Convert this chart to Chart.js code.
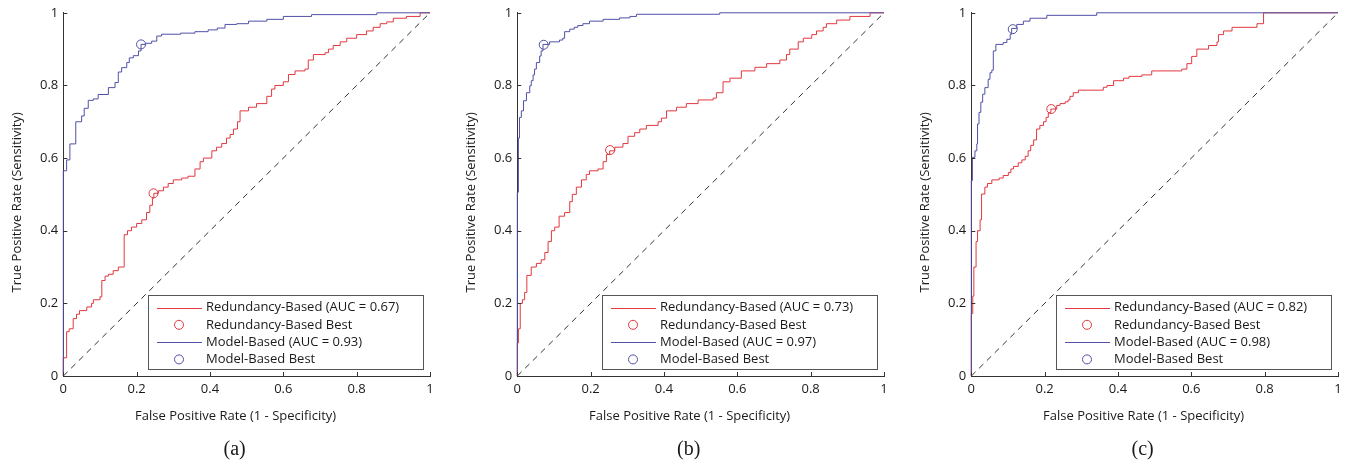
<!DOCTYPE html>
<html>
<head>
<meta charset="utf-8">
<script src="https://cdn.jsdelivr.net/npm/chart.js@4.4.1/dist/chart.umd.min.js"></script>
<style>
  html, body { margin: 0; padding: 0; background: #fff; overflow: hidden; }
  #wrap { position: relative; width: 1348px; height: 463px; overflow: hidden; }
  canvas { position: absolute; top: 0; }
</style>
</head>
<body>
<div id="wrap">
  <canvas id="rocA" width="449" height="463" style="left:0px"></canvas>
  <canvas id="rocB" width="449" height="463" style="left:454px"></canvas>
  <canvas id="rocC" width="449" height="463" style="left:908px"></canvas>
</div>
<script>
// axis ticks (both axes)
const tickValues = [0, 0.2, 0.4, 0.6, 0.8, 1];
const tickLabels = ['0', '0.2', '0.4', '0.6', '0.8', '1'];

const panelLabels = ['(a)', '(b)', '(c)'];
const aucRedundancy = [0.67, 0.73, 0.82];
const aucModel = [0.93, 0.97, 0.98];

// (a) redundancy-based ROC
const fprRedA = [0, 0, 0.009, 0.016, 0.027, 0.036, 0.044, 0.064, 0.077, 0.082, 0.1, 0.105, 0.114, 0.123, 0.136, 0.15, 0.166, 0.175, 0.186, 0.2, 0.214, 0.227, 0.236, 0.243, 0.247, 0.259, 0.273, 0.286, 0.3, 0.323, 0.34, 0.359, 0.373, 0.382, 0.405, 0.418, 0.432, 0.445, 0.455, 0.464, 0.475, 0.482, 0.505, 0.527, 0.555, 0.568, 0.577, 0.6, 0.614, 0.632, 0.659, 0.668, 0.682, 0.714, 0.723, 0.736, 0.755, 0.773, 0.8, 0.827, 0.845, 0.864, 0.882, 0.9, 0.936, 0.973, 1];
const tprRedA = [0, 0.05, 0.122, 0.13, 0.158, 0.17, 0.18, 0.19, 0.2, 0.21, 0.218, 0.263, 0.275, 0.28, 0.29, 0.3, 0.389, 0.4, 0.41, 0.42, 0.43, 0.45, 0.47, 0.49, 0.503, 0.51, 0.52, 0.53, 0.54, 0.545, 0.55, 0.57, 0.59, 0.6, 0.62, 0.63, 0.64, 0.655, 0.665, 0.68, 0.7, 0.73, 0.74, 0.75, 0.77, 0.79, 0.8, 0.81, 0.83, 0.84, 0.845, 0.87, 0.885, 0.89, 0.9, 0.91, 0.92, 0.93, 0.94, 0.95, 0.96, 0.97, 0.975, 0.985, 0.99, 1, 1];
// (a) model-based ROC
const fprModA = [0, 0, 0.009, 0.018, 0.034, 0.05, 0.057, 0.068, 0.082, 0.095, 0.123, 0.141, 0.15, 0.159, 0.173, 0.18, 0.191, 0.205, 0.212, 0.225, 0.241, 0.255, 0.268, 0.32, 0.359, 0.395, 0.42, 0.441, 0.473, 0.505, 0.555, 0.6, 0.677, 0.855, 1];
const tprModA = [0, 0.565, 0.595, 0.639, 0.7, 0.716, 0.737, 0.759, 0.763, 0.775, 0.794, 0.808, 0.837, 0.849, 0.863, 0.876, 0.882, 0.895, 0.913, 0.916, 0.922, 0.936, 0.941, 0.944, 0.948, 0.953, 0.958, 0.968, 0.97, 0.977, 0.982, 0.99, 0.995, 1, 1];

// (b)
const fprRedB = [0, 0, 0.003, 0.008, 0.014, 0.02, 0.026, 0.038, 0.052, 0.065, 0.075, 0.084, 0.093, 0.102, 0.114, 0.129, 0.143, 0.15, 0.161, 0.175, 0.188, 0.197, 0.22, 0.234, 0.243, 0.252, 0.266, 0.288, 0.302, 0.32, 0.334, 0.352, 0.384, 0.393, 0.407, 0.434, 0.461, 0.493, 0.534, 0.543, 0.561, 0.58, 0.611, 0.648, 0.68, 0.716, 0.734, 0.743, 0.766, 0.78, 0.803, 0.816, 0.834, 0.843, 0.871, 0.907, 0.962, 1];
const tprRedB = [0, 0.091, 0.13, 0.2, 0.21, 0.23, 0.277, 0.3, 0.31, 0.32, 0.34, 0.37, 0.4, 0.41, 0.44, 0.45, 0.48, 0.5, 0.52, 0.54, 0.555, 0.565, 0.57, 0.59, 0.61, 0.62, 0.63, 0.64, 0.66, 0.67, 0.68, 0.69, 0.7, 0.71, 0.73, 0.74, 0.75, 0.76, 0.765, 0.78, 0.81, 0.82, 0.84, 0.85, 0.86, 0.87, 0.885, 0.9, 0.92, 0.93, 0.94, 0.95, 0.96, 0.97, 0.98, 0.99, 1, 1];
const fprModB = [0, 0, 0.003, 0.006, 0.011, 0.017, 0.025, 0.034, 0.038, 0.043, 0.047, 0.052, 0.061, 0.065, 0.07, 0.088, 0.115, 0.124, 0.129, 0.143, 0.155, 0.165, 0.179, 0.197, 0.234, 0.279, 0.307, 0.325, 0.552, 1];
const tprModB = [0, 0.506, 0.655, 0.712, 0.73, 0.758, 0.78, 0.799, 0.813, 0.829, 0.845, 0.863, 0.881, 0.895, 0.913, 0.92, 0.925, 0.93, 0.948, 0.955, 0.96, 0.965, 0.97, 0.977, 0.982, 0.986, 0.99, 0.996, 1, 1];

// (c)
const fprRedC = [0, 0, 0.004, 0.007, 0.013, 0.017, 0.024, 0.028, 0.037, 0.044, 0.056, 0.076, 0.087, 0.101, 0.108, 0.115, 0.128, 0.138, 0.147, 0.155, 0.162, 0.17, 0.178, 0.187, 0.197, 0.204, 0.21, 0.217, 0.233, 0.242, 0.256, 0.264, 0.269, 0.278, 0.292, 0.36, 0.37, 0.388, 0.415, 0.43, 0.465, 0.492, 0.574, 0.588, 0.601, 0.615, 0.647, 0.67, 0.674, 0.688, 0.711, 0.779, 0.797, 1];
const tprRedC = [0, 0.172, 0.22, 0.3, 0.37, 0.4, 0.43, 0.501, 0.52, 0.53, 0.54, 0.545, 0.552, 0.56, 0.57, 0.577, 0.587, 0.595, 0.605, 0.62, 0.635, 0.65, 0.68, 0.69, 0.7, 0.712, 0.725, 0.735, 0.745, 0.75, 0.755, 0.76, 0.77, 0.78, 0.787, 0.795, 0.8, 0.813, 0.82, 0.825, 0.829, 0.84, 0.845, 0.86, 0.88, 0.9, 0.91, 0.92, 0.94, 0.95, 0.96, 0.97, 1, 1];
const fprModC = [0, 0, 0.003, 0.01, 0.015, 0.017, 0.021, 0.026, 0.031, 0.037, 0.046, 0.051, 0.056, 0.06, 0.067, 0.087, 0.097, 0.106, 0.11, 0.124, 0.142, 0.16, 0.206, 0.342, 1];
const tprModC = [0, 0.538, 0.602, 0.62, 0.639, 0.694, 0.726, 0.754, 0.776, 0.794, 0.817, 0.835, 0.842, 0.895, 0.913, 0.918, 0.927, 0.941, 0.957, 0.968, 0.977, 0.985, 0.993, 1, 1];

// best operating points [fpr, tpr] per panel
const bestRed = [[0.246, 0.503], [0.253, 0.622], [0.218, 0.735]];
const bestModel = [[0.212, 0.913], [0.072, 0.912], [0.113, 0.955]];

const RED = '#e2383f';
const BLUE = '#5050a8';
const INK = '#1a1a1a';
const FONT = '"Open Sans", sans-serif';

const toPts = (xs, ys) => xs.map((v, i) => ({x: v, y: ys[i]}));

// inward ticks, legend box, axis titles and caption
const rocDecor = {
    id: 'rocDecor',
    afterDatasetsDraw(chart) {
        const {ctx, chartArea: a, scales: {x, y}} = chart;
        const caption = chart.options.plugins.rocDecor.caption;
        ctx.save();

        ctx.strokeStyle = '#333';
        ctx.lineWidth = 1;
        ctx.beginPath();
        tickValues.forEach(v => {
            const px = Math.round(x.getPixelForValue(v)) + 0.5;
            ctx.moveTo(px, a.bottom);
            ctx.lineTo(px, a.bottom - 4);
            const py = Math.round(y.getPixelForValue(v)) + 0.5;
            ctx.moveTo(a.left, py);
            ctx.lineTo(a.left + 4, py);
        });
        ctx.stroke();

        // legend
        const w = 275, h = 74;
        const lx = Math.round(a.right - 7 - w), ly = Math.round(a.bottom - 7 - h);
        ctx.fillStyle = '#fff';
        ctx.fillRect(lx, ly, w, h);
        ctx.strokeStyle = '#555';
        ctx.strokeRect(lx + 0.5, ly + 0.5, w, h);
        ctx.font = '13px ' + FONT;
        ctx.textBaseline = 'middle';
        ctx.textAlign = 'left';
        chart.data.datasets.filter(d => d.inLegend).forEach((d, i) => {
            const cy = ly + 12.5 + i * 17.3;
            ctx.strokeStyle = d.borderColor;
            ctx.beginPath();
            if (d.showLine) {
                ctx.moveTo(lx + 9, Math.round(cy) + 0.5);
                ctx.lineTo(lx + 54, Math.round(cy) + 0.5);
            } else {
                ctx.arc(lx + 31, cy, 4.5, 0, Math.PI * 2);
            }
            ctx.stroke();
            ctx.fillStyle = INK;
            ctx.fillText(d.label, lx + 58, cy);
        });

        // titles
        const cx = (a.left + a.right) / 2;
        ctx.fillStyle = INK;
        ctx.textAlign = 'center';
        ctx.font = '13px ' + FONT;
        ctx.fillText('False Positive Rate (1 - Specificity)', cx - 11, a.bottom + 40);
        ctx.save();
        ctx.translate(a.left - 46.5, (a.top + a.bottom) / 2 + 8);
        ctx.rotate(-Math.PI / 2);
        ctx.fillText('True Positive Rate (Sensitivity)', 0, 0);
        ctx.restore();
        ctx.font = '20px "Liberation Serif", "Times New Roman", serif';
        ctx.fillText(caption, cx - 12, a.bottom + 74);
        ctx.restore();
    }
};

function axis() {
    return {
        type: 'linear',
        min: 0,
        max: 1,
        afterBuildTicks: s => { s.ticks = tickValues.map(v => ({value: v})); },
        ticks: {
            color: INK,
            font: {family: FONT, size: 13},
            padding: 5,
            maxRotation: 0,
            callback: (v, i) => tickLabels[i]
        },
        grid: {display: false, drawTicks: false},
        border: {display: true, color: '#333', width: 1}
    };
}

function makeRoc(id, k, fr, tr, fm, tm) {
    const xAxis = axis();
    xAxis.afterFit = s => { s.height = 87; };
    const yAxis = axis();
    yAxis.afterFit = s => { s.width = 63.3; };
    return new Chart(document.getElementById(id), {
        type: 'scatter',
        data: {
            datasets: [
                {label: `Redundancy-Based (AUC = ${aucRedundancy[k].toFixed(2)})`, inLegend: true,
                 data: toPts(fr, tr), showLine: true, stepped: true, borderColor: RED,
                 borderWidth: 1, pointRadius: 0, clip: false, order: 2},
                {label: 'Redundancy-Based Best', inLegend: true,
                 data: [{x: bestRed[k][0], y: bestRed[k][1]}], showLine: false, borderColor: RED,
                 backgroundColor: 'rgba(0,0,0,0)', pointRadius: 4.5, borderWidth: 1, clip: false, order: 1},
                {label: `Model-Based (AUC = ${aucModel[k].toFixed(2)})`, inLegend: true,
                 data: toPts(fm, tm), showLine: true, stepped: true, borderColor: BLUE,
                 borderWidth: 1, pointRadius: 0, clip: false, order: 0},
                {label: 'Model-Based Best', inLegend: true,
                 data: [{x: bestModel[k][0], y: bestModel[k][1]}], showLine: false, borderColor: BLUE,
                 backgroundColor: 'rgba(0,0,0,0)', pointRadius: 4.5, borderWidth: 1, clip: false, order: 0},
                {label: 'chance', inLegend: false,
                 data: [{x: 0, y: 0}, {x: 1, y: 1}], showLine: true, borderColor: '#333',
                 borderDash: [6, 5], borderWidth: 1, pointRadius: 0, order: 3}
            ]
        },
        options: {
            responsive: false,
            animation: false,
            devicePixelRatio: 1,
            layout: {padding: {left: 0, right: 19, top: 11.7, bottom: 0}},
            scales: {x: xAxis, y: yAxis},
            plugins: {
                legend: {display: false},
                tooltip: {enabled: false},
                rocDecor: {caption: panelLabels[k]}
            }
        },
        plugins: [rocDecor]
    });
}

makeRoc('rocA', 0, fprRedA, tprRedA, fprModA, tprModA);
makeRoc('rocB', 1, fprRedB, tprRedB, fprModB, tprModB);
makeRoc('rocC', 2, fprRedC, tprRedC, fprModC, tprModC);
</script>
</body>
</html>
